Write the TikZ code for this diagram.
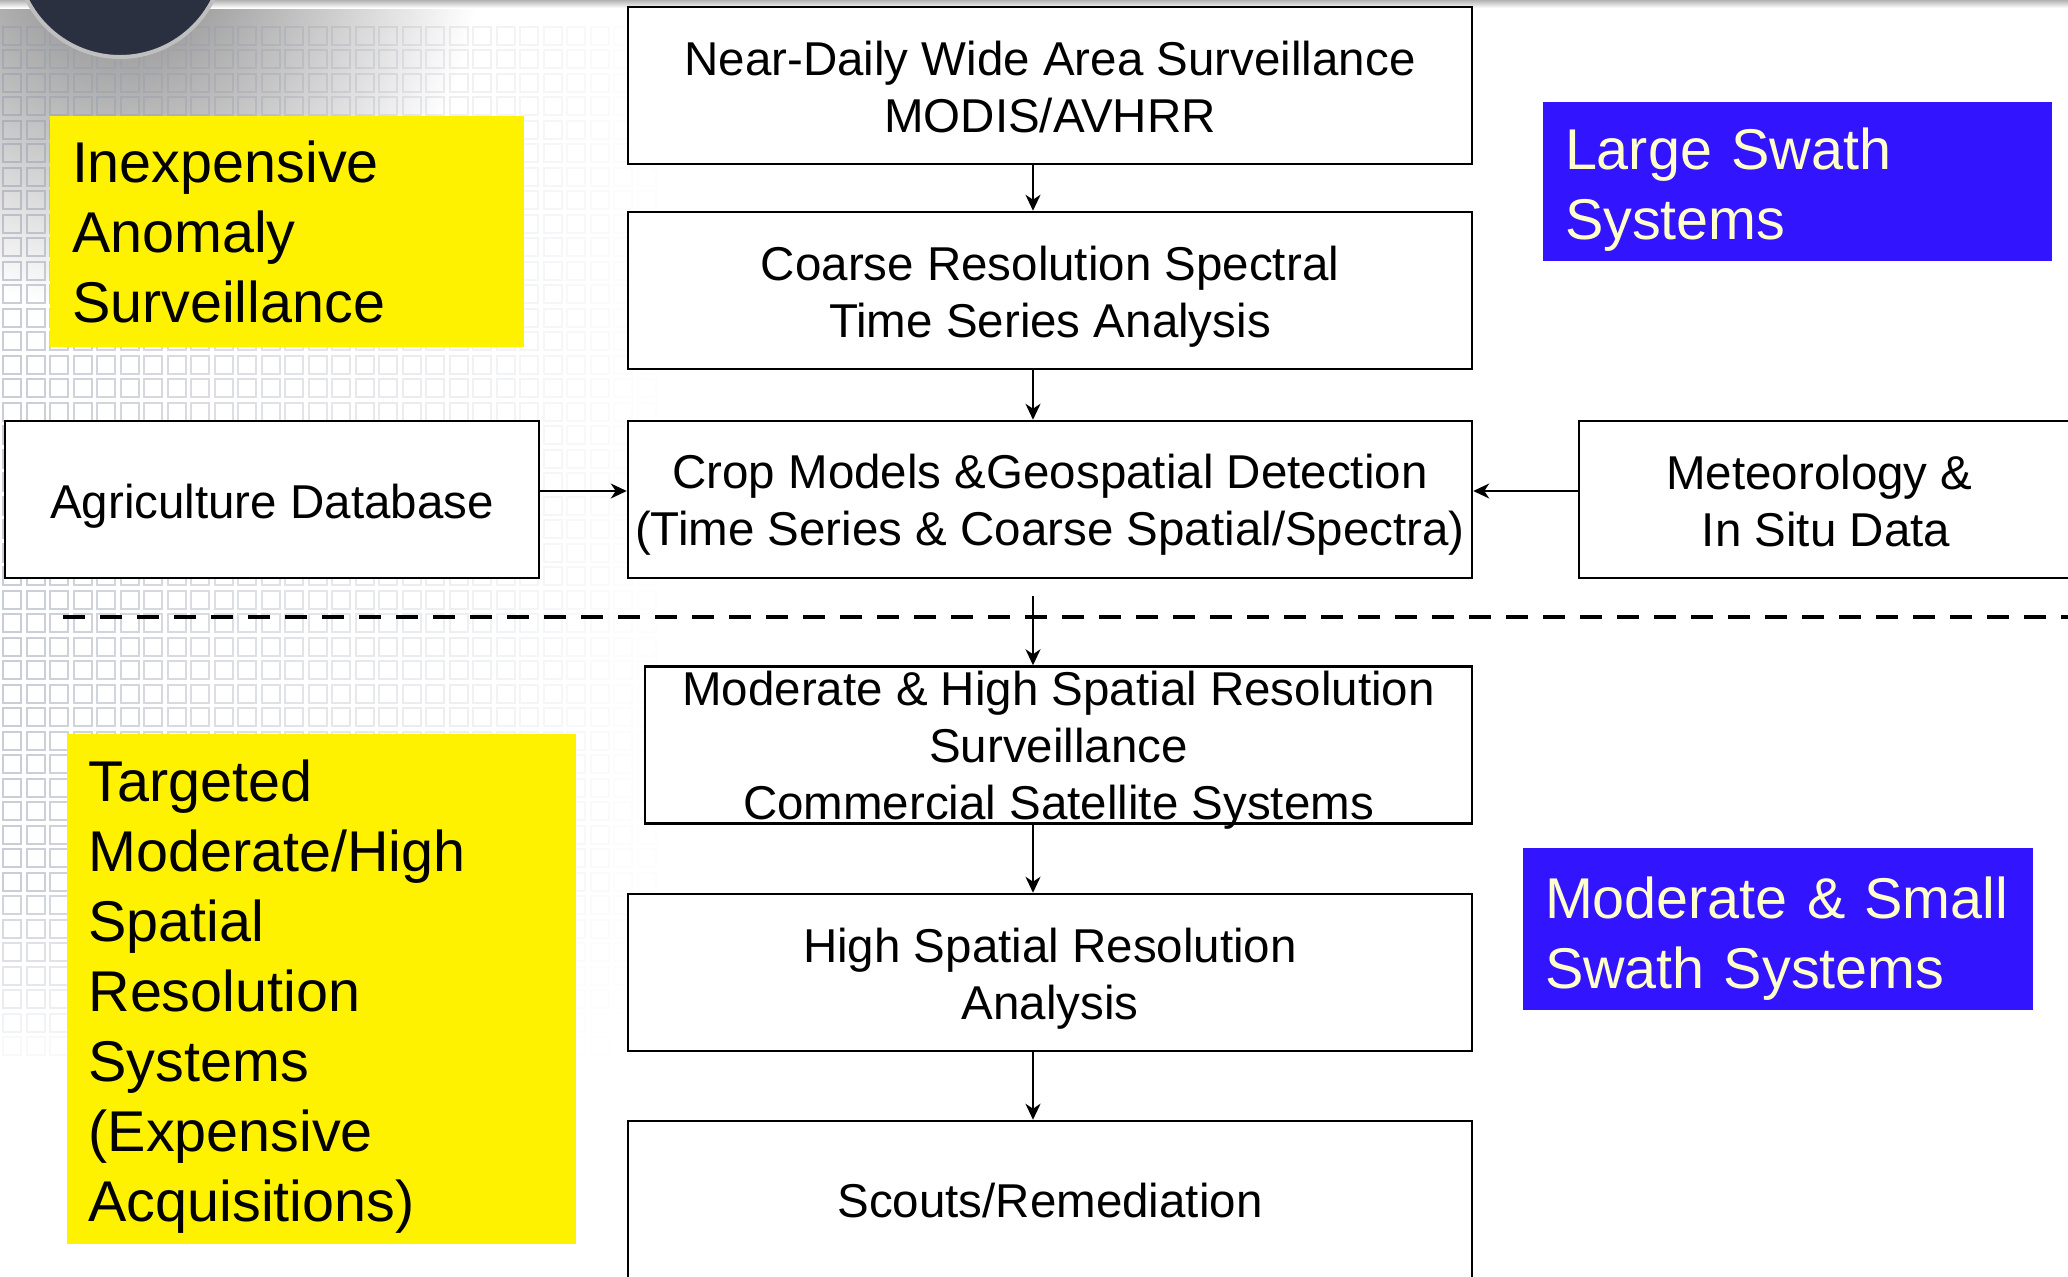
\documentclass[tikz,border=0pt]{standalone}
\usepackage{fontspec}
\setmainfont{Liberation Sans}
\usetikzlibrary{arrows.meta}
\definecolor{swathblue}{RGB}{51,20,255}
\definecolor{swathtext}{RGB}{255,255,204}
\definecolor{globe}{RGB}{42,48,64}
\definecolor{gridgray}{RGB}{150,156,172}
\tikzset{box/.style = {draw, fill=white, line width=1.25pt, minimum width=422pt, minimum height=78.5pt, align=center, inner sep=0, font=\fontsize{23.75pt}{28.5pt}\selectfont}}
\tikzset{flow/.style = {-{Stealth[length=8pt, width=7.5pt, inset=2.5pt]}, line width=1pt}}
\tikzset{note/.style = {fill=yellow, inner xsep=11pt, inner ysep=0, align=left, font=\fontsize{28.75pt}{35pt}\selectfont}}
\tikzset{swath/.style = {note, fill=swathblue, text=swathtext}}
\tikzset{divider/.style = {dash pattern=on 11pt off 7.5pt, line width=2.3pt}}
\tikzset{bggrid/.style = {gridgray, line width=1pt}}

\begin{document}
\begin{tikzpicture}[x=0.5pt, y=-0.5pt]
\useasboundingbox (0, 0) rectangle (2068, 1276);
% slide background
\shade [inner color=black!50, outer color=white] (120, -47) circle [radius=360];
\shade [top color=black!30, bottom color=white] (0, 0) rectangle (2068, 8);
\foreach \c in {0,...,27}
  \foreach \r in {1,...,44} {
    \pgfmathsetmacro{\op}{max(0, 0.5 - 0.018*\c) * min(1, (45-\r)/8)}
    \draw [bggrid, draw opacity=\op] (\c*23.5+3, \r*23.5+3) rectangle +(18, 18);
  }
\fill [globe] (120, -47) circle [radius=105];
\draw [gray!50, line width=2pt] (120, -47) circle [radius=104];

% upper part
      \node [box, text height=46.9pt] (near) at (1050, 85.5) {Near-Daily Wide Area Surveillance\\MODIS/AVHRR};
      \node [box, text height=52.1pt] (coarse) at (1050, 290.5) {Coarse Resolution Spectral\\Time Series Analysis};
      \node [box, text height=51pt] (crop) at (1050, 499.5) {Crop Models \&Geospatial Detection\\(Time Series \& Coarse Spatial/Spectra)};
      \node [box, minimum width=267pt, text height=23.5pt] (agri) at (272, 499.5) {Agriculture Database};
      \node [box, minimum width=251pt, text height=47.2pt] (meteo) at (1830, 499.5) {Meteorology \&\hspace*{10.5pt}\\In Situ Data\hspace*{4pt}};

% lower part
      \node [box, minimum width=413.5pt, text height=79.5pt, inner ysep=-3pt] (modhigh) at (1058.5, 745) {Moderate \& High Spatial Resolution\\Surveillance\\Commercial Satellite Systems};
      \node [box, text height=52.1pt] (highres) at (1050, 972.5) {High Spatial Resolution\\Analysis};
      \node [box, text height=18pt] (scouts) at (1050, 1199.5) {Scouts/Remediation};

% side labels
      \node [note, text width=215pt, minimum height=115.5pt] (cheap) at (287, 231.5) {Inexpensive\\Anomaly\\Surveillance};
      \node [note, text width=232.5pt, minimum height=255pt, text height=28.6pt] (targeted) at (321, 988.5) {Targeted\\Moderate/High\\Spatial\\Resolution\\Systems\\(Expensive\\Acquisitions)};
      \node [swath, text width=232.5pt, minimum height=79.5pt, text height=28.6pt] (large) at (1797.5, 181.5) {Large Swath\\Systems};
      \node [swath, text width=233pt, minimum height=81pt, text height=30pt] (small) at (1778, 929) {Moderate \& Small\\Swath Systems};

      \coordinate (cutL) at (63, 617);
      \coordinate (cutR) at (2080, 617);
      \coordinate (split) at (1033, 596);
      \draw [divider] (cutL) -- (cutR);

      \draw [flow] (near.south -| split) -- (coarse.north -| split);
      \draw [flow] (coarse.south -| split) -- (crop.north -| split);
      \draw [flow] (split) -- (modhigh.north -| split);
      \draw [flow] (modhigh.south -| split) -- (highres.north -| split);
      \draw [flow] (highres.south -| split) -- (scouts.north -| split);
      \draw [flow] ([yshift=4.25pt]agri.east) -- ([yshift=4.25pt]crop.west);
      \draw [flow] ([yshift=4.25pt]meteo.west) -- ([yshift=4.25pt]crop.east);
\end{tikzpicture}
\end{document}
